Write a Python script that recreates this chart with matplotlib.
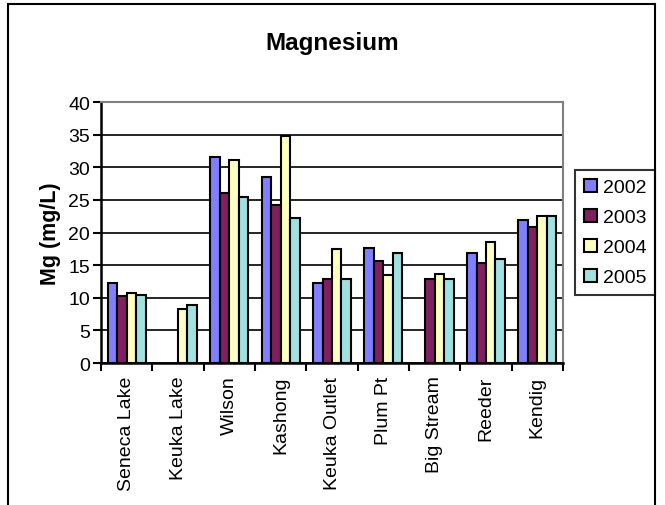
import matplotlib
matplotlib.use("Agg")
import matplotlib.pyplot as plt
from matplotlib.patches import Rectangle
import numpy as np

plt.rcParams['font.family'] = ['Liberation Sans', 'DejaVu Sans']

sites = ['Seneca Lake', 'Keuka Lake', 'Wilson', 'Kashong', 'Keuka Outlet',
         'Plum Pt', 'Big Stream', 'Reeder', 'Kendig']
years = ['2002', '2003', '2004', '2005']
mg_2002 = [12.3, np.nan, 31.6, 28.5, 12.2, 17.6, np.nan, 16.8, 21.9]
mg_2003 = [10.2, np.nan, 26.1, 24.2, 12.9, 15.6, 12.9, 15.3, 20.9]
mg_2004 = [10.7, 8.3, 31.1, 34.8, 17.5, 13.5, 13.6, 18.5, 22.5]
mg_2005 = [10.5, 8.9, 25.4, 22.3, 12.8, 16.9, 12.9, 15.9, 22.5]
colors = ['#8080FF', '#802060', '#FFFFC0', '#A0E0E0']

fig = plt.figure(figsize=(6.65, 5.06), dpi=100)
ax = fig.add_axes([0.1519, 0.2806, 0.6947, 0.5158])

x = np.arange(len(sites))
w = 0.184
for i, (vals, c, lab) in enumerate(zip([mg_2002, mg_2003, mg_2004, mg_2005], colors, years)):
    ax.bar(x - 1.5 * w + i * w, vals, w, color=c, edgecolor='black', linewidth=1.5,
           label=lab, zorder=3)

ax.set_xlim(-0.5, len(sites) - 0.5)
ax.set_ylim(0, 40)
ax.set_yticks(range(0, 41, 5))
ax.yaxis.grid(True, color='black', linewidth=1.2, zorder=0)
ax.set_xticks(x)
ax.set_xticklabels(sites, rotation=90, fontsize=14)
ax.tick_params(axis='x', length=0, pad=9)
ax.set_xticks(np.arange(-0.5, len(sites)), minor=True)
ax.tick_params(axis='x', which='minor', length=6, width=1.5, direction='out')
ax.tick_params(axis='y', labelsize=14, length=6, width=1.5, pad=2)

for s in ['left', 'bottom']:
    ax.spines[s].set_linewidth(1.8)
    ax.spines[s].set_color('black')
for s in ['top', 'right']:
    ax.spines[s].set_linewidth(1.5)
    ax.spines[s].set_color('#808080')

ax.set_ylabel('Mg (mg/L)', fontsize=15.5, fontweight='bold', labelpad=5)
fig.text(0.5, 0.915, 'Magnesium', ha='center', va='center', fontsize=17.5, fontweight='bold')

leg = ax.legend(loc='center left', bbox_to_anchor=(1.027, 0.5), fontsize=14,
                frameon=True, fancybox=False, edgecolor='black', handlelength=0.65,
                handleheight=0.65, handletextpad=0.3, labelspacing=0.65,
                borderpad=0.45, borderaxespad=0)
leg.get_frame().set_linewidth(1.5)

fig.patches.append(Rectangle((8 / 665, -0.05), 647 / 665, 1.04, transform=fig.transFigure,
                             fill=False, edgecolor='black', linewidth=1.5))

fig.savefig('out.png', dpi=100)
